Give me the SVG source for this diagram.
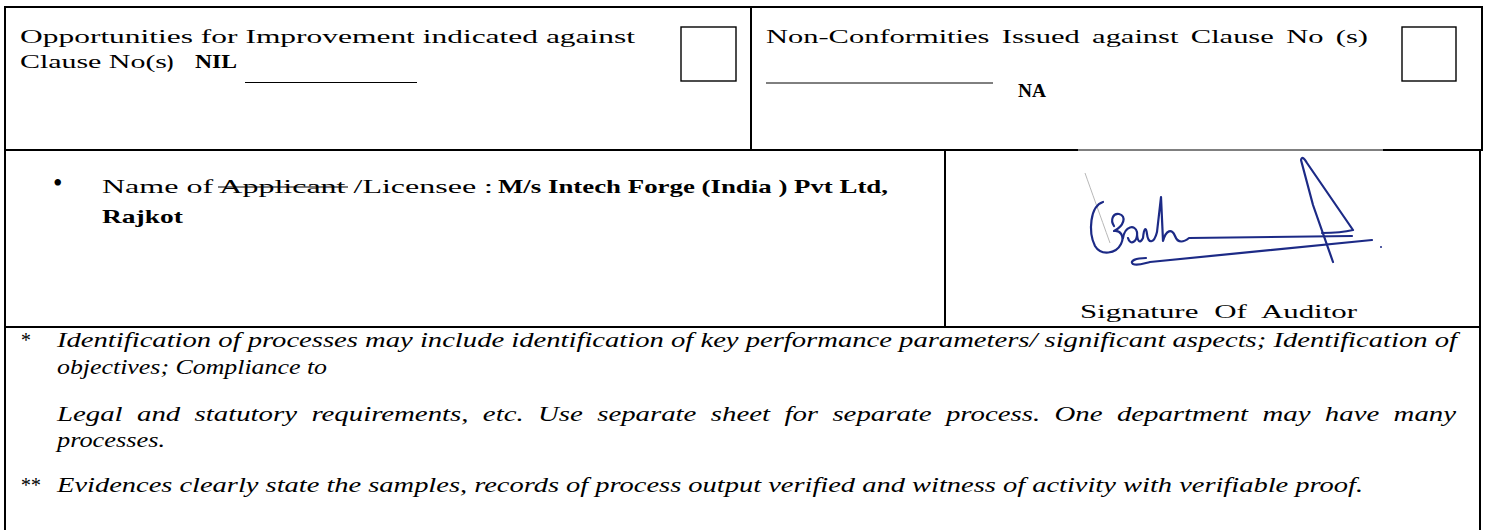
<svg xmlns="http://www.w3.org/2000/svg" width="1486" height="530" viewBox="0 0 1486 530">
<style>
.t{font-family:"Liberation Serif","Times New Roman",serif;font-size:19px;fill:#000}
.f{font-size:20px}
.bul{font-size:27px}
.b{font-weight:bold}
.i{font-style:italic}
.ln{stroke:#000;stroke-width:2;fill:none}
.thin{stroke:#000;stroke-width:1;fill:none}
.box{stroke:#000;stroke-width:1.4;fill:#fff}
.sig{stroke:#1c2a86;stroke-width:2.2;fill:none;stroke-linecap:round;stroke-linejoin:round}
</style>
<rect x="0" y="0" width="1486" height="530" fill="#fff"/>
<g id="grid">
  <line class="ln" x1="5" y1="7" x2="1483" y2="7"/>
  <line class="ln" x1="5" y1="6" x2="5" y2="530"/>
  <line class="ln" x1="1482" y1="6" x2="1482" y2="151"/>
  <line class="ln" x1="1480" y1="150" x2="1480" y2="530"/>
  <line class="ln" x1="751" y1="7" x2="751" y2="150"/>
  <line class="ln" x1="5" y1="150" x2="1078" y2="150"/>
  <line class="thin" x1="1078" y1="150" x2="1383" y2="150"/>
  <line class="ln" x1="1383" y1="150" x2="1483" y2="150"/>
  <line class="ln" x1="945" y1="150" x2="945" y2="327"/>
  <line class="ln" x1="5" y1="327" x2="1481" y2="327"/>
</g>
<g id="opportunities">
  <text class="t" x="20" y="43" textLength="615" lengthAdjust="spacingAndGlyphs">Opportunities for Improvement indicated against</text>
  <text class="t" x="20" y="68" textLength="147" lengthAdjust="spacingAndGlyphs">Clause No(s</text>
  <text class="t b" x="167" y="68">)</text>
  <text class="t b" x="195" y="68" textLength="42" lengthAdjust="spacingAndGlyphs">NIL</text>
  <line class="thin" x1="245" y1="82.5" x2="417" y2="82.5"/>
  <rect class="box" x="681" y="27" width="55" height="54"/>
</g>
<g id="nonconformities">
  <text class="t" x="766" y="43" textLength="602" lengthAdjust="spacingAndGlyphs" word-spacing="3">Non-Conformities Issued against Clause No (s)</text>
  <line class="thin" x1="766" y1="83" x2="993" y2="83"/>
  <text class="t b" x="1018" y="97" textLength="28" lengthAdjust="spacingAndGlyphs">NA</text>
  <rect class="box" x="1402" y="27" width="54" height="54"/>
</g>
<g id="licensee">
  <text class="t bul" x="53" y="192">•</text>
  <text class="t" x="102" y="193" textLength="391" lengthAdjust="spacingAndGlyphs">Name of Applicant /Licensee :</text>
  <line class="thin" x1="218" y1="187" x2="348" y2="187"/>
  <text class="t b" x="498" y="193" textLength="390" lengthAdjust="spacingAndGlyphs">M/s Intech Forge (India ) Pvt Ltd,</text>
  <text class="t b" x="102" y="223" textLength="81" lengthAdjust="spacingAndGlyphs">Rajkot</text>
</g>
<g id="signature">
  <path d="M1085,173 C1091,190 1100,215 1110,243" stroke="#b8b8b8" stroke-width="1" fill="none"/>
  <path class="sig" d="M1103,202 C1090,206 1088,232 1095,246 C1101,256 1116,254 1121,244 C1125,236 1120,230 1114,231 C1124,226 1127,216 1119,214 C1113,213 1110,220 1114,226"/>
  <path class="sig" d="M1123,238 C1125,226 1135,224 1137,232 C1138,242 1130,246 1128,238 M1137,232 C1137,242 1140,244 1143,238 C1144,228 1146,226 1147,234 C1148,244 1154,244 1157,232 L1161,197 L1163,241 C1166,230 1172,228 1175,236 C1178,244 1184,242 1189,238 L1352,236"/>
  <path class="sig" d="M1333,262 L1313,205 L1301,160 C1302,156 1304,158 1307,163 L1353,230 C1345,232 1335,233 1322,233"/>
  <path class="sig" d="M1146,258 C1136,258 1129,261 1133,264 C1137,266 1142,264 1150,262 L1372,240"/>
  <circle cx="1381" cy="247" r="1" fill="#1c2a86"/>
  <text class="t" x="1080" y="318" textLength="277" lengthAdjust="spacingAndGlyphs" word-spacing="5">Signature Of Auditor</text>
</g>
<g id="notes">
  <text class="t f i" x="20" y="347">*</text>
  <text class="t f i" x="57" y="347" textLength="1400" lengthAdjust="spacingAndGlyphs">Identification of processes may include identification of key performance parameters/ significant aspects; Identification of</text>
  <text class="t f i" x="57" y="374" textLength="270" lengthAdjust="spacingAndGlyphs">objectives; Compliance to</text>
  <text class="t f i" x="57" y="421" textLength="1399" lengthAdjust="spacingAndGlyphs" word-spacing="5">Legal and statutory requirements, etc. Use separate sheet for separate process. One department may have many</text>
  <text class="t f i" x="57" y="447" textLength="108" lengthAdjust="spacingAndGlyphs">processes.</text>
  <text class="t f i" x="20" y="492">**</text>
  <text class="t f i" x="57" y="492" textLength="1306" lengthAdjust="spacingAndGlyphs">Evidences clearly state the samples, records of process output verified and witness of activity with verifiable proof.</text>
</g>
</svg>
